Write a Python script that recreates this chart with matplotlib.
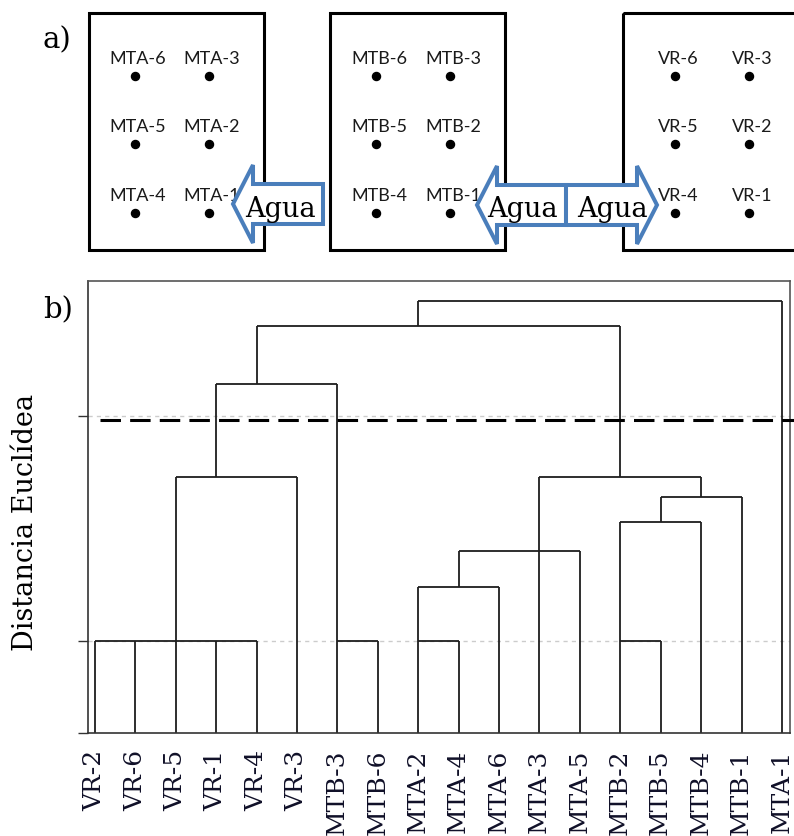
import matplotlib.pyplot as plt
from matplotlib.patches import Rectangle, Polygon

SERIF = 'DejaVu Serif'
SANS = 'Lato'

# Leaf order along the dendrogram
leaf_labels = ['VR-2', 'VR-6', 'VR-5', 'VR-1', 'VR-4', 'VR-3',
               'MTB-3', 'MTB-6', 'MTA-2', 'MTA-4', 'MTA-6', 'MTA-3',
               'MTA-5', 'MTB-2', 'MTB-5', 'MTB-4', 'MTB-1', 'MTA-1']

# Fusions: leaf positions of the joined branches, linkage distance,
# and the position from which the new branch continues upward
merge_members = [(0, 1, 2, 3, 4), (6, 7), (8, 9), (13, 14), (8, 10),
                 (9, 11, 12), (13, 15), (14, 16), (2, 5), (11, 15),
                 (3, 6), (4, 13), (8, 17)]
merge_heights = [1.00, 1.00, 1.00, 1.00, 1.24, 1.40, 1.53, 1.64,
                 1.73, 1.73, 2.14, 2.40, 2.51]
merge_anchor = [2, 6, 8, 13, 9, 11, 14, 15, 3, 13, 4, 8, None]

cut_height = 1.98
grid_levels = [1.0, 2.0]
y_floor, y_top = 0.591, 2.6

# Sampling sites, rows top to bottom, two columns per plot
site_grids = [
    [['MTA-6', 'MTA-3'], ['MTA-5', 'MTA-2'], ['MTA-4', 'MTA-1']],
    [['MTB-6', 'MTB-3'], ['MTB-5', 'MTB-2'], ['MTB-4', 'MTB-1']],
    [['VR-6', 'VR-3'], ['VR-5', 'VR-2'], ['VR-4', 'VR-1']],
]

W, H = 794, 836
fig = plt.figure(figsize=(W / 100, H / 100), dpi=100)

# ---- a) plot layout sketch, drawn in pixel units ----
ax_a = fig.add_axes([0, 0, 1, 1])
ax_a.set_xlim(0, W)
ax_a.set_ylim(H, 0)
ax_a.axis('off')
ax_a.patch.set_visible(False)

box_left = [89, 330, 623]
box_width = [175, 175, 180]
col_dx = [(46, 120), (46, 120), (52, 126)]
row_y = [76, 144, 213]
for left, width, dx, grid in zip(box_left, box_width, col_dx, site_grids):
    ax_a.add_patch(Rectangle((left, 13), width, 237, fill=False,
                             lw=2.2, ec='black', zorder=1))
    for r, row in enumerate(grid):
        for c, name in enumerate(row):
            x = left + dx[c]
            ax_a.plot(x, row_y[r], 'o', color='black', ms=5.8, zorder=2)
            ax_a.text(x + 3, row_y[r] - 17, name, ha='center', va='center',
                      fontsize=13, family=SANS, color='#1a1a1a', zorder=2)

ARROW_BLUE = '#4A7EBB'


def block_arrow(tail_x, tip_x, yc, head_len=20, head_half=39, shaft_half=20):
    s = 1 if tip_x > tail_x else -1
    base = tip_x - s * head_len
    pts = [(tail_x, yc - shaft_half), (base, yc - shaft_half),
           (base, yc - head_half), (tip_x, yc), (base, yc + head_half),
           (base, yc + shaft_half), (tail_x, yc + shaft_half)]
    ax_a.add_patch(Polygon(pts, closed=True, fc='white', ec=ARROW_BLUE,
                           lw=2.9, joinstyle='miter', zorder=3))


block_arrow(323, 233, 204)
block_arrow(566, 477, 205)
block_arrow(566, 657, 205)
for x in (280, 522, 612):
    ax_a.text(x, 217, 'Agua', ha='center', va='baseline', fontsize=19.5,
              family=SERIF, color='black', zorder=4)

fig.text(57 / W, 1 - 40 / H, 'a)', ha='center', va='center',
         fontsize=21, family=SERIF)
fig.text(58 / W, 1 - 310 / H, 'b)', ha='center', va='center',
         fontsize=21, family=SERIF)

# ---- b) dendrogram ----
ax = fig.add_axes([88 / W, (H - 733) / H, 702 / W, 452 / H])
ax.set_xlim(-0.173, 17.2)
ax.set_ylim(y_floor, y_top)

line_kw = dict(color='#1e1e1e', lw=1.3, zorder=2)
top = {i: 0.0 for i in range(len(leaf_labels))}
for members, h, anchor in zip(merge_members, merge_heights, merge_anchor):
    for m in members:
        ax.vlines(m, top[m], h, **line_kw)
    ax.hlines(h, min(members), max(members), **line_kw)
    if anchor is not None:
        top[anchor] = h

ax.hlines(grid_levels, -0.173, 17.2, colors='#cccccc', lw=1,
          linestyles=(0, (3, 3)), zorder=0)
ax.plot([0.12, 17.3], [cut_height, cut_height], color='black', lw=2.2,
        dashes=(6.7, 3.0), dash_capstyle='butt', clip_on=False, zorder=3)

ax.set_xticks(range(len(leaf_labels)))
ax.set_xticklabels(leaf_labels, rotation=90, family=SERIF, fontsize=18,
                   color='#101028')
ax.tick_params(axis='x', length=0, pad=12)
ax.set_yticks([y_floor] + grid_levels)
ax.set_yticklabels([])
ax.tick_params(axis='y', length=7.2, width=1, color='#333333',
               direction='out')
for side, col in (('left', '#333333'), ('bottom', '#333333'),
                  ('top', '#555555'), ('right', '#555555')):
    ax.spines[side].set_color(col)
    ax.spines[side].set_linewidth(1.2)

fig.text(26 / W, 1 - 522 / H, 'Distancia Euclídea', rotation=90,
         ha='center', va='center', fontsize=19.5, family=SERIF)

fig.savefig('out.png', dpi=100)
